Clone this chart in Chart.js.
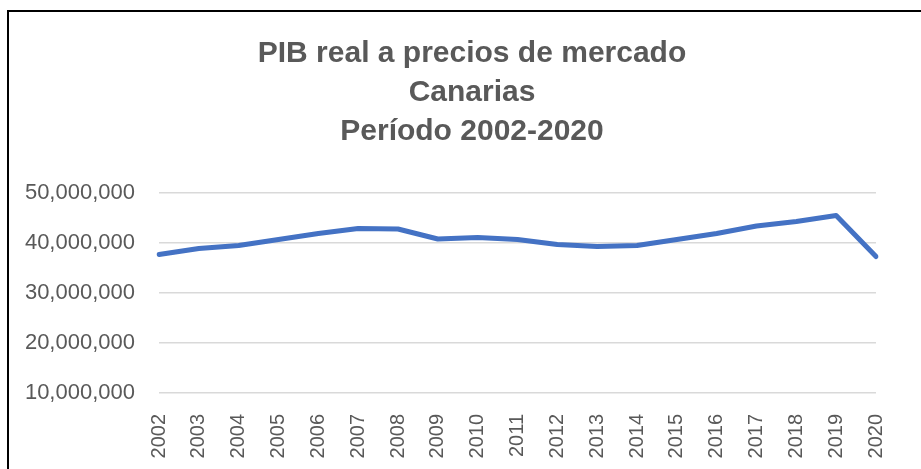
<!DOCTYPE html>
<html>
<head>
<meta charset="utf-8">
<script src="https://cdn.jsdelivr.net/npm/chart.js@4"></script>
<style>
  html, body { margin: 0; padding: 0; background: #fff; overflow: hidden; }
  #frame {
    position: absolute; left: 7px; top: 10px; width: 930px; height: 470px;
    border-left: 2px solid #000; border-top: 2px solid #000;
  }
  #wrap { position: absolute; left: 0; top: 0; width: 921px; height: 469px; }
</style>
</head>
<body>
<div id="frame"></div>
<div id="wrap"><canvas id="graph--pib" width="921" height="469"></canvas></div>
<script>
// PIB real a precios de mercado, Canarias (euros)
const years = ["2002", "2003", "2004", "2005", "2006", "2007", "2008", "2009", "2010", "2011",
  "2012", "2013", "2014", "2015", "2016", "2017", "2018", "2019", "2020"];
const pib = [37700000, 38900000, 39500000, 40700000, 41900000, 42900000, 42800000, 40800000, 41100000, 40700000,
  39700000, 39300000, 39500000, 40700000, 41900000, 43400000, 44300000, 45500000, 37300000];
const titleLines = ["PIB real a precios de mercado", "Canarias", "Período 2002-2020"];
const yTicks = { min: 10000000, max: 50000000, step: 10000000 };

const GREY = "#595959";
const PIB = document.getElementById("graph--pib");

// the title sits a bit right of the canvas centre
const nudgeTitle = {
  id: "nudgeTitle",
  afterLayout(chart) {
    chart.titleBlock.left += 10;
    chart.titleBlock.right += 10;
  }
};

let pibChart = new Chart(PIB, {
  type: "line",
  data: {
    labels: years,
    datasets: [{
      label: "PIB",
      data: pib,
      borderColor: "#4472C4",
      backgroundColor: "#4472C4",
      borderWidth: 5,
      borderCapStyle: "round",
      borderJoinStyle: "round",
      pointRadius: 0,
      fill: false,
      tension: 0
    }]
  },
  options: {
    responsive: false,
    animation: false,
    layout: { padding: { left: 18, right: 15, top: 0, bottom: 0 } },
    plugins: {
      legend: { display: false },
      tooltip: { enabled: false },
      title: {
        display: true,
        text: titleLines,
        color: GREY,
        font: { family: "'Liberation Sans', Arial, sans-serif", size: 30, weight: "bold", lineHeight: 1.3 },
        padding: { top: 34, bottom: 42 }
      }
    },
    scales: {
      x: {
        grid: { display: false, drawTicks: false },
        border: { display: false },
        afterFit: (s) => { s.height = 76; },
        ticks: {
          minRotation: 90,
          maxRotation: 90,
          padding: 21,
          color: GREY,
          font: { family: "'Liberation Sans', Arial, sans-serif", size: 20 }
        }
      },
      y: {
        min: yTicks.min,
        max: yTicks.max,
        grid: { color: "#d9d9d9", lineWidth: 1.5, drawTicks: false },
        border: { display: false },
        afterFit: (s) => { s.width = 141; },
        ticks: {
          stepSize: yTicks.step,
          padding: 24,
          color: GREY,
          font: { family: "'Liberation Sans', Arial, sans-serif", size: 22 },
          callback: (v) => v.toLocaleString("en-US")
        }
      }
    }
  },
  plugins: [nudgeTitle]
});
</script>
</body>
</html>
